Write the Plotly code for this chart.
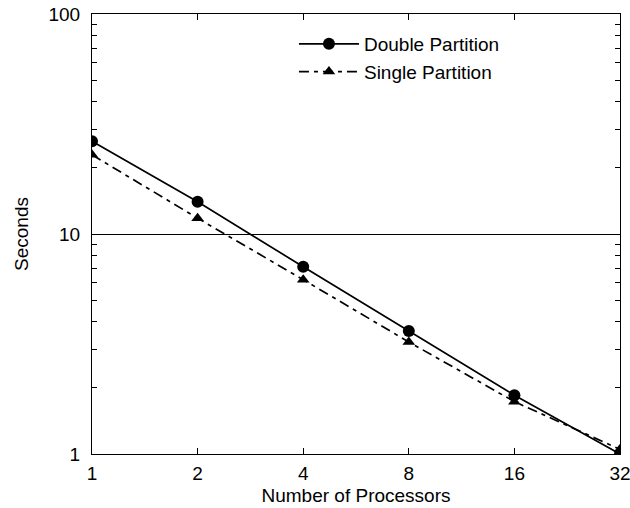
import plotly.graph_objects as go

processors = [1, 2, 4, 8, 16, 32]
double_partition = [26.4, 14.0, 7.1, 3.62, 1.85, 1.0]
single_partition = [22.9, 11.8, 6.2, 3.23, 1.73, 1.05]
x_tick_labels = ["1", "2", "4", "8", "16", "32"]
y_tick_vals = [1, 10, 100]
y_tick_labels = ["1", "10", "100"]

fig = go.Figure()
fig.add_trace(go.Scatter(
    x=processors, y=double_partition, name="Double Partition",
    mode="lines+markers",
    line=dict(color="black", width=1.7, dash="solid"),
    marker=dict(symbol="circle", size=12, color="black"),
))
fig.add_trace(go.Scatter(
    x=processors, y=single_partition, name="Single Partition",
    mode="lines+markers",
    line=dict(color="black", width=1.7, dash="10px,5px,4px,5px"),
    marker=dict(symbol="triangle-up", size=11, color="black"),
))

minor_y = [v * m for v in (1, 10) for m in range(2, 10)]

fig.update_layout(
    width=630, height=508,
    margin=dict(l=92, r=10, t=14, b=54),
    paper_bgcolor="white", plot_bgcolor="white",
    font=dict(family="Liberation Sans, Arial, sans-serif", size=19, color="black"),
    showlegend=True,
    legend=dict(x=0.3825, y=0.975, xanchor="left", yanchor="top",
                bgcolor="rgba(0,0,0,0)", itemwidth=60,
                font=dict(size=19), tracegroupgap=0),
    xaxis=dict(
        type="log", range=[0, 1.50515], automargin=False,
        tickvals=processors, ticktext=x_tick_labels,
        ticks="inside", ticklen=6, tickwidth=1, tickcolor="black",
        ticklabelstandoff=2, ticklabeloverflow="allow",
        showline=True, linecolor="black", linewidth=1.2, mirror="ticks",
        showgrid=False, zeroline=False,
        title=dict(text="Number of Processors", standoff=5, font=dict(size=19)),
    ),
    yaxis=dict(
        type="log", range=[0, 2], automargin=False,
        tickvals=y_tick_vals, ticktext=y_tick_labels,
        ticks="inside", ticklen=8, tickwidth=1, tickcolor="black",
        ticklabelstandoff=7, ticklabeloverflow="allow",
        showline=True, linecolor="black", linewidth=1.2, mirror="ticks",
        showgrid=True, gridcolor="black", gridwidth=1,
        zeroline=False,
        minor=dict(tickvals=minor_y, ticks="inside", ticklen=5, tickcolor="black", showgrid=False),
        title=dict(text="Seconds", standoff=14, font=dict(size=19)),
    ),
)

fig.write_html("out.html")
